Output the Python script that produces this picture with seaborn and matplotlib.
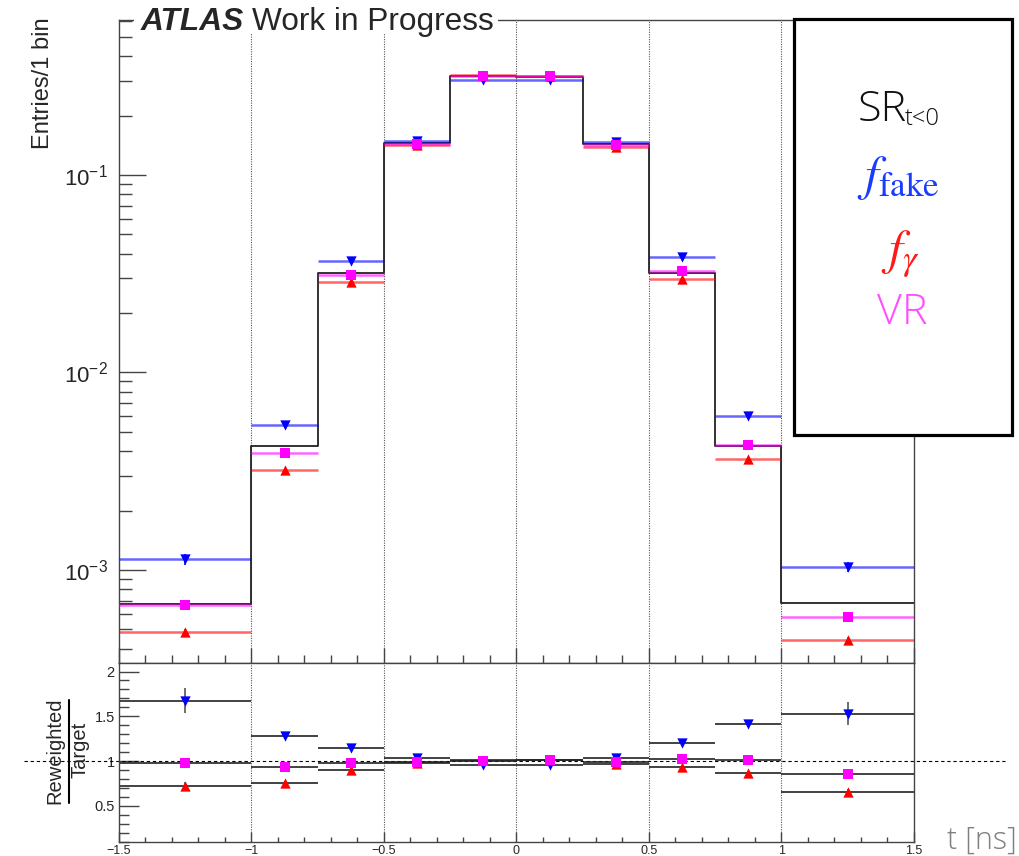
import numpy as np
import pandas as pd
import matplotlib
matplotlib.use("Agg")
import matplotlib.pyplot as plt
import seaborn as sns
from matplotlib.patches import Rectangle
from matplotlib.lines import Line2D
from matplotlib.ticker import MultipleLocator, FuncFormatter, LogLocator, NullFormatter

# ---------------- data ----------------
bin_edges = [-1.5, -1.0, -0.75, -0.5, -0.25, 0.0, 0.25, 0.5, 0.75, 1.0, 1.5]
target = [6.75e-4, 4.23e-3, 0.0319, 0.1445, 0.317, 0.315, 0.143, 0.0319, 4.23e-3, 6.8e-4]
f_fake = [1.13e-3, 5.42e-3, 0.0367, 0.149, 0.303, 0.301, 0.147, 0.0383, 6.0e-3, 1.04e-3]
f_gamma = [4.86e-4, 3.20e-3, 0.0286, 0.1416, 0.320, 0.318, 0.1387, 0.0297, 3.64e-3, 4.42e-4]
vr = [6.62e-4, 3.93e-3, 0.0313, 0.143, 0.317, 0.317, 0.1416, 0.0327, 4.29e-3, 5.78e-4]
# relative stat. errors in the top panel
relerr_fake = [0.06, 0.03, 0.015, 0.01, 0.007, 0.007, 0.01, 0.015, 0.03, 0.06]
relerr_gamma = [0.03, 0.02, 0.01, 0.007, 0.005, 0.005, 0.007, 0.01, 0.02, 0.03]
relerr_vr = [0.03, 0.02, 0.01, 0.007, 0.005, 0.005, 0.007, 0.01, 0.02, 0.03]
# errors on the ratio
ratio_err_fake = [0.14, 0.03, 0.02, 0.012, 0.01, 0.01, 0.012, 0.02, 0.03, 0.13]
ratio_err_gamma = [0.04, 0.02, 0.015, 0.01, 0.008, 0.008, 0.01, 0.015, 0.02, 0.04]
ratio_err_vr = [0.05, 0.02, 0.015, 0.01, 0.008, 0.008, 0.01, 0.015, 0.02, 0.04]

grid_x = [-1.0, -0.5, 0.0, 0.5, 1.0]

# ---------------- style ----------------
sns.set_style("white")
plt.rcParams["font.family"] = ["Liberation Sans", "DejaVu Sans"]
plt.rcParams["mathtext.fontset"] = "custom"
plt.rcParams["mathtext.rm"] = "Liberation Sans"
plt.rcParams["mathtext.it"] = "Liberation Sans:italic"
plt.rcParams["mathtext.bf"] = "Liberation Sans:bold"
plt.rcParams["axes.unicode_minus"] = True

BLUE, RED, MAG = "#0000ff", "#ff0000", "#ff00ff"
SPINE = "#444444"

W, H = 1020, 856
fig = plt.figure(figsize=(W / 100, H / 100), dpi=100)
fig.patch.set_facecolor("white")

def fx(px):
    return px / W

def fy(py):
    return 1 - py / H

L, R = 119, 914
ax1 = fig.add_axes([fx(L), fy(663), fx(R - L), (663 - 20) / H])
ax2 = fig.add_axes([fx(L), fy(842), fx(R - L), (842 - 663) / H])

edges = np.array(bin_edges)
centers = 0.5 * (edges[:-1] + edges[1:])
lo, hi = edges[:-1], edges[1:]
tgt = np.array(target)

series = [
    ("fake", np.array(f_fake), np.array(relerr_fake), np.array(ratio_err_fake), BLUE, "v"),
    ("gamma", np.array(f_gamma), np.array(relerr_gamma), np.array(ratio_err_gamma), RED, "^"),
    ("vr", np.array(vr), np.array(relerr_vr), np.array(ratio_err_vr), MAG, "s"),
]

# ---------------- top panel ----------------
ax1.set_yscale("log")
for gx in grid_x:
    ax1.axvline(gx, color="#555555", ls=(0, (1, 1.2)), lw=0.8, zorder=0)
    ax2.axvline(gx, color="#555555", ls=(0, (1, 1.2)), lw=0.8, zorder=0)

hist_df = pd.DataFrame({"t": centers, "w": tgt})
sns.histplot(data=hist_df, x="t", weights="w", bins=list(bin_edges), element="step",
             fill=False, color="#222222", linewidth=1.3, ax=ax1, zorder=2)

for name, vals, rel, rerr, col, mk in series:
    ax1.hlines(vals, lo, hi, color=col, alpha=0.6, lw=1.8, zorder=3)
    ax1.vlines(centers, vals * (1 - rel), vals * (1 + rel), color=col, lw=1.2, zorder=3)
    df = pd.DataFrame({"x": centers, "y": vals})
    sns.scatterplot(data=df, x="x", y="y", ax=ax1, color=col, marker=mk,
                    s=55 if mk != "s" else 50, linewidth=0, zorder=4)

ax1.set_xlim(-1.5, 1.5)
ax1.set_ylim(3.38e-4, 0.609)
ax1.set_xlabel("")
ax1.set_ylabel("")
ax1.xaxis.set_major_locator(MultipleLocator(0.5))
ax1.xaxis.set_minor_locator(MultipleLocator(0.1))
ax1.yaxis.set_major_locator(LogLocator(base=10, numticks=10))
ax1.yaxis.set_minor_locator(LogLocator(base=10, subs=np.arange(2, 10), numticks=20))
ax1.yaxis.set_minor_formatter(NullFormatter())
ax1.tick_params(axis="y", which="major", direction="in", length=19.5, width=1,
                left=True, right=False, labelsize=16, pad=8, color=SPINE)
ax1.tick_params(axis="y", which="minor", direction="in", length=9.5, width=1,
                left=True, right=False, color=SPINE)
ax1.tick_params(axis="x", which="major", direction="in", length=11, width=1,
                bottom=True, top=False, labelbottom=False, color=SPINE)
ax1.tick_params(axis="x", which="minor", direction="in", length=5.5, width=1,
                bottom=True, top=False, color=SPINE)
for s in ax1.spines.values():
    s.set_color(SPINE)
    s.set_linewidth(1.0)

# ---------------- ratio panel ----------------
ax2.axhline(1.0, xmin=-0.12, xmax=1.115, clip_on=False, color="black",
            ls=(0, (3, 2.5)), lw=0.8, zorder=1)
for name, vals, rel, rerr, col, mk in series:
    ratio = vals / tgt
    ax2.hlines(ratio, lo, hi, color="#222222", lw=1.2, zorder=2)
    ax2.vlines(centers, ratio - rerr, ratio + rerr, color="#555555", lw=1.2, zorder=2)
    df = pd.DataFrame({"x": centers, "r": ratio})
    sns.scatterplot(data=df, x="x", y="r", ax=ax2, color=col, marker=mk,
                    s=55 if mk != "s" else 50, linewidth=0, zorder=4)

ax2.set_xlim(-1.5, 1.5)
ax2.set_ylim(0.095, 2.095)
ax2.set_xlabel("")
ax2.set_ylabel("")
fmt = FuncFormatter(lambda v, p: ("%g" % v).replace("-", "\u2212"))
ax2.xaxis.set_major_locator(MultipleLocator(0.5))
ax2.xaxis.set_minor_locator(MultipleLocator(0.1))
ax2.xaxis.set_major_formatter(fmt)
ax2.yaxis.set_major_locator(MultipleLocator(0.5))
ax2.yaxis.set_minor_locator(MultipleLocator(0.1))
ax2.yaxis.set_major_formatter(fmt)
ax2.tick_params(axis="y", which="major", direction="in", length=14.5, width=1,
                left=True, right=False, labelsize=10.5, pad=3, color=SPINE)
ax2.tick_params(axis="y", which="minor", direction="in", length=7.2, width=1,
                left=True, right=False, color=SPINE)
ax2.tick_params(axis="x", which="major", direction="in", length=7.5, width=1,
                bottom=True, top=False, labelsize=9, pad=2.5, color=SPINE)
ax2.tick_params(axis="x", which="minor", direction="in", length=3.8, width=1,
                bottom=True, top=False, color=SPINE)
for s in ax2.spines.values():
    s.set_color(SPINE)
    s.set_linewidth(1.0)

# ---------------- texts ----------------
fig.text(fx(43), fy(83), "Entries/1 bin", rotation=90, fontsize=17,
         ha="center", va="center")

fig.text(fx(54.5), fy(751), "Reweighted", rotation=90, fontsize=14.5,
         ha="center", va="center")
fig.text(fx(80), fy(750), "Target", rotation=90, fontsize=14.5,
         ha="center", va="center")
fig.add_artist(Line2D([fx(69), fx(69)], [fy(700), fy(803)], transform=fig.transFigure,
                      color="black", lw=1.5))

fig.text(fx(1017), fy(849), "t [ns]", fontsize=22, color="#808080",
         family=["Open Sans", "DejaVu Sans"], weight="light", ha="right", va="baseline")

# title with white background over the frame
fig.add_artist(Rectangle((fx(134), fy(33)), fx(498 - 134), 27 / H, transform=fig.transFigure,
                         facecolor="white", edgecolor="none", zorder=5))
fig.text(fx(141), fy(30), "ATLAS", fontsize=22.8, weight="bold", style="italic",
         ha="left", va="baseline", zorder=6)
fig.text(fx(252), fy(30), "Work in Progress", fontsize=22.8,
         ha="left", va="baseline", zorder=6)

# legend box
fig.add_artist(Rectangle((fx(794), fy(435)), fx(1012 - 794), (435 - 19) / H,
                         transform=fig.transFigure, facecolor="white",
                         edgecolor="black", lw=2.3, zorder=5))
fig.text(fx(858), fy(121), "SR", fontsize=31, family=["Open Sans", "DejaVu Sans"],
         weight="light", ha="left", va="baseline", zorder=7, color="#111111")
fig.text(fx(905), fy(125), "t<0", fontsize=17, family=["Open Sans", "DejaVu Sans"],
         weight="light", ha="left", va="baseline", zorder=7, color="#111111")
fig.text(fx(898), fy(178), r"$f_{\mathrm{fake}}$", fontsize=36, math_fontfamily="stix",
         color="#1a3cff", ha="center", va="center", zorder=7)
fig.text(fx(900), fy(254), r"$f_{\gamma}$", fontsize=36, math_fontfamily="stix",
         color="#ff1a1a", ha="center", va="center", zorder=7)
fig.text(fx(902), fy(313), "VR", fontsize=31, family=["Open Sans", "DejaVu Sans"],
         weight="light", color="#ff4dff", ha="center", va="center", zorder=7)

fig.savefig("out.png", dpi=100)
